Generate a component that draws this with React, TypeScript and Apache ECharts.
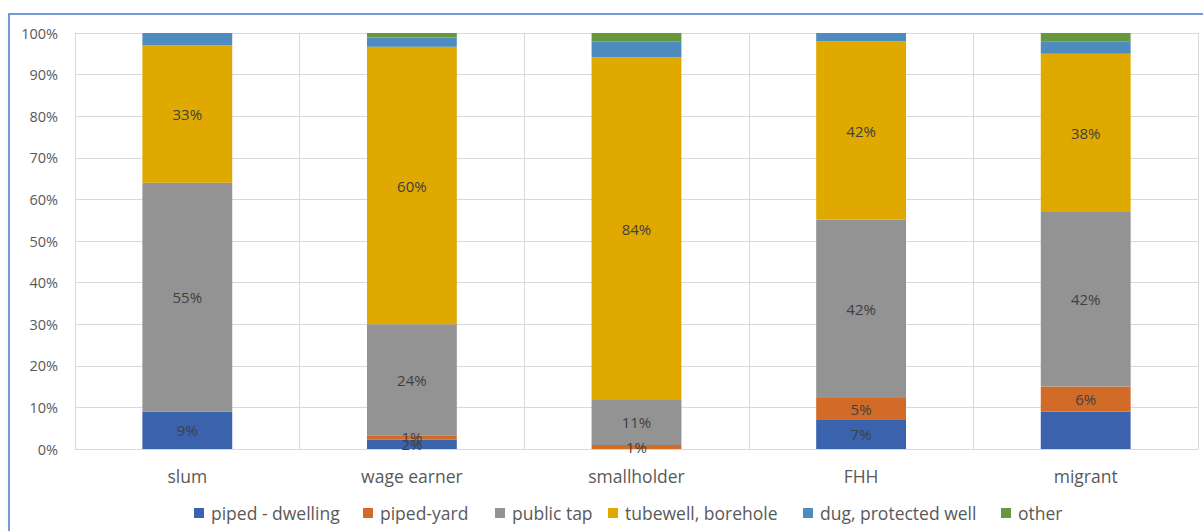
import React, { useEffect, useRef } from "react";
import * as echarts from "echarts";

const categories = ["slum", "wage earner", "smallholder", "FHH", "migrant"];
const seriesNames = ["piped - dwelling", "piped-yard", "public tap", "tubewell, borehole", "dug, protected well", "other"];
const pipedDwelling = [9, 2, 0, 7, 9];
const pipedYard = [0, 1, 1, 5, 6];
const publicTap = [55, 24, 11, 42, 42];
const tubewell = [33, 60, 84, 42, 38];
const dugWell = [3, 2, 4, 2, 3];
const other = [0, 1, 2, 0, 2];
const seriesValues = [pipedDwelling, pipedYard, publicTap, tubewell, dugWell, other];
const labelledSeries = [true, true, true, true, false, false];
const hiddenLabels = [["migrant", "piped - dwelling"]];
const yTicks = [0, 10, 20, 30, 40, 50, 60, 70, 80, 90, 100];
const colors = ["#3A62AD", "#D26B27", "#939393", "#E0A900", "#4E8BBE", "#66993F"];
const legendLefts = [194, 363, 495, 608, 803, 1001];

export default function App() {
  const ref = useRef<HTMLDivElement>(null);
  useEffect(() => {
    if (!ref.current) return;
    const chart = echarts.init(ref.current, null, { renderer: "svg" });
    const totals = categories.map((_, i) => seriesValues.reduce((s, arr) => s + arr[i], 0));
    const font = "'Open Sans', sans-serif";
    const series = seriesNames.map((name, si) => ({
      name,
      type: "bar",
      stack: "total",
      barWidth: "40%",
      itemStyle: { color: colors[si] },
      label: {
        show: labelledSeries[si],
        position: "inside",
        color: "#404040",
        fontSize: 15,
        fontFamily: font,
        formatter: (p: any) => `${p.data.raw}%`,
      },
      data: categories.map((c, i) => {
        const raw = seriesValues[si][i];
        const hidden = hiddenLabels.some(([hc, hs]) => hc === c && hs === name);
        const item: any = { value: (raw / totals[i]) * 100, raw };
        if (raw === 0 || hidden) item.label = { show: false };
        return item;
      }),
    }));
    const legends = seriesNames.map((name, si) => ({
      data: [name],
      left: legendLefts[si],
      top: 504,
      itemWidth: 10,
      itemHeight: 10,
      icon: "rect",
      padding: 0,
      textStyle: { color: "#595959", fontSize: 17.5, fontFamily: font, padding: [0, 0, 0, 2] },
    }));
    chart.setOption({
      animation: false,
      backgroundColor: "#ffffff",
      textStyle: { fontFamily: font },
      graphic: [
        {
          type: "rect",
          shape: { x: 9, y: 14, width: 1200, height: 530 },
          style: { fill: "none", stroke: "#4A78C8", lineWidth: 1.5 },
          silent: true,
        },
      ],
      grid: { left: 75, right: 5, top: 33, bottom: 82, containLabel: false },
      legend: legends,
      xAxis: {
        type: "category",
        data: categories,
        axisTick: { show: false },
        axisLine: { lineStyle: { color: "#d9d9d9", width: 1 } },
        splitLine: { show: true, lineStyle: { color: "#d9d9d9", width: 1 } },
        axisLabel: { color: "#595959", fontSize: 17.5, fontFamily: font, margin: 18 },
      },
      yAxis: {
        type: "value",
        min: yTicks[0],
        max: yTicks[yTicks.length - 1],
        interval: yTicks[1] - yTicks[0],
        axisLine: { show: true, lineStyle: { color: "#d9d9d9", width: 1 } },
        axisTick: { show: false },
        splitLine: { show: true, lineStyle: { color: "#d9d9d9", width: 1 } },
        axisLabel: { color: "#595959", fontSize: 14.5, fontFamily: font, margin: 17, formatter: "{value}%" },
      },
      series,
    });
    return () => chart.dispose();
  }, []);
  return (
    <div
      ref={ref}
      style={{ position: "absolute", left: 0, top: 0, width: 1203, height: 531 }}
    />
  );
}
